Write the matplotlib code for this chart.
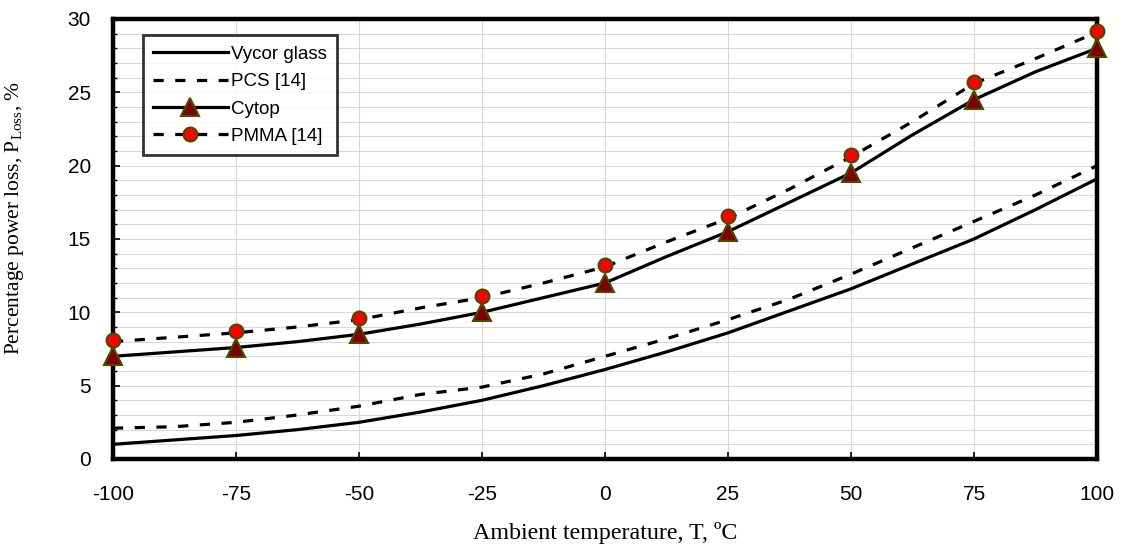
import matplotlib
matplotlib.use("Agg")
import matplotlib.pyplot as plt
from matplotlib.ticker import MultipleLocator

plt.rcParams['font.family'] = ['Liberation Sans', 'DejaVu Sans']
plt.rcParams['mathtext.fontset'] = 'custom'
plt.rcParams['mathtext.rm'] = 'Liberation Serif'
plt.rcParams['axes.unicode_minus'] = False

# line data (fine steps) and marker data (every 25 degC)
t_line = [-100, -87.5, -75, -62.5, -50, -37.5, -25, -12.5, 0,
          12.5, 25, 37.5, 50, 62.5, 75, 87.5, 100]
vycor = [1.0, 1.3, 1.6, 2.0, 2.5, 3.2, 4.0, 5.0, 6.1,
         7.3, 8.6, 10.1, 11.6, 13.3, 15.0, 17.0, 19.1]
pcs = [2.1, 2.2, 2.5, 3.0, 3.6, 4.4, 4.9, 5.8, 7.0,
       8.2, 9.5, 10.9, 12.6, 14.4, 16.2, 18.0, 20.0]
cytop = [7.0, 7.3, 7.6, 8.0, 8.5, 9.2, 10.0, 11.0, 12.0,
         13.8, 15.5, 17.5, 19.5, 22.1, 24.5, 26.4, 28.0]
pmma = [8.0, 8.3, 8.6, 9.0, 9.5, 10.3, 11.0, 12.0, 13.1,
        14.8, 16.4, 18.4, 20.6, 23.0, 25.6, 27.3, 29.1]

t_mark = [-100, -75, -50, -25, 0, 25, 50, 75, 100]
cytop_mark = [7.0, 7.6, 8.5, 10.0, 12.0, 15.5, 19.5, 24.5, 28.0]
pmma_mark = [8.1, 8.7, 9.6, 11.1, 13.2, 16.6, 20.7, 25.7, 29.2]

fig = plt.figure(figsize=(11.21, 5.5), dpi=100)
ax = fig.add_axes([0.1008, 0.1655, 0.8778, 0.800])

lw = 2.3
dash = (0, (3.2, 3.6))
edge = '#4a4a00'

ax.plot(t_line, vycor, color='black', lw=lw, zorder=3)
ax.plot(t_line, pcs, color='black', lw=lw, linestyle=dash, zorder=3)
ax.plot(t_line, cytop, color='black', lw=lw, zorder=3)
ax.plot(t_line, pmma, color='black', lw=lw, linestyle=dash, zorder=3)
ax.plot(t_mark, pmma_mark, linestyle='none', marker='o', ms=10,
        mfc='#ff0000', mec=edge, mew=1.5, zorder=4, clip_on=False)
ax.plot(t_mark, cytop_mark, linestyle='none', marker='^', ms=12.5,
        mfc='#800000', mec=edge, mew=1.5, zorder=5, clip_on=False)

# legend proxies
h1, = ax.plot([], [], color='black', lw=lw)
h2, = ax.plot([], [], color='black', lw=lw, linestyle=dash)
h3, = ax.plot([], [], color='black', lw=lw, marker='^', ms=12.5,
              mfc='#800000', mec=edge, mew=1.5)
h4, = ax.plot([], [], color='black', lw=lw, linestyle=dash, marker='o', ms=10,
              mfc='#ff0000', mec=edge, mew=1.5)
leg = ax.legend([h1, h2, h3, h4], ['Vycor glass', 'PCS [14]', 'Cytop', 'PMMA [14]'],
                loc='upper left', bbox_to_anchor=(0.03, 0.963), fontsize=13.5,
                frameon=True, fancybox=False, handlelength=4.0, handletextpad=0.15,
                labelspacing=0.55, borderpad=0.55, borderaxespad=0.0)
leg.get_frame().set_edgecolor('black')
leg.get_frame().set_linewidth(2.0)
leg.set_zorder(6)

ax.set_xlim(-100, 100)
ax.set_ylim(0, 30)
ax.xaxis.set_major_locator(MultipleLocator(25))
ax.yaxis.set_major_locator(MultipleLocator(5))
ax.yaxis.set_minor_locator(MultipleLocator(1))

ax.grid(True, which='major', axis='x', color='#d9d9d9', lw=0.8)
ax.grid(True, which='both', axis='y', color='#d9d9d9', lw=0.8)
ax.set_axisbelow(True)

for s in ax.spines.values():
    s.set_linewidth(3.2)
ax.tick_params(axis='both', which='major', direction='in', length=5, width=1.2,
               labelsize=15)
ax.tick_params(axis='x', which='major', pad=19)
ax.tick_params(axis='y', which='major', pad=16)
ax.tick_params(axis='y', which='minor', direction='in', length=3, width=1.0)

ax.set_xlabel('Ambient temperature, T, ºC', family='Liberation Serif',
              fontsize=17.3, labelpad=13)
ax.set_ylabel(r'Percentage power loss, P$_{\mathrm{Loss}}$, %',
              family='Liberation Serif', fontsize=15.5)
ax.yaxis.set_label_coords(-0.088, 0.548)

fig.savefig('out.png', dpi=100)
